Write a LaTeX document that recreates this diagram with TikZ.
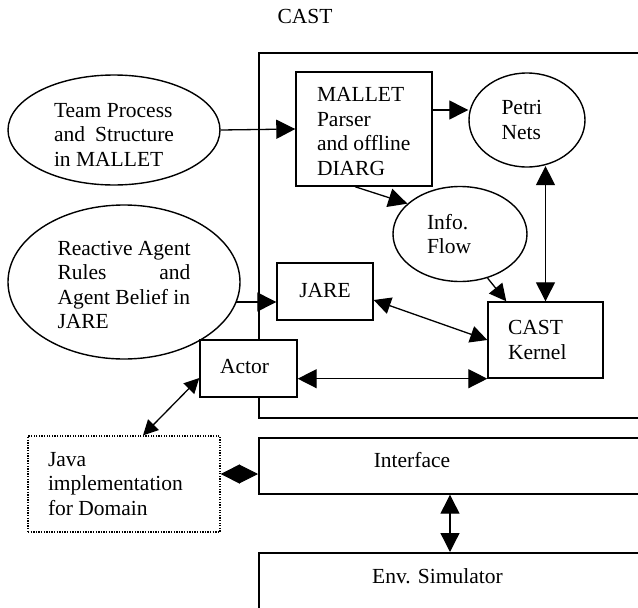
\documentclass[tikz,border=0pt]{standalone}
\usepackage{fontspec}
\setmainfont{Liberation Serif}
\usetikzlibrary{arrows.meta,shapes.geometric}
\begin{document}
\begin{tikzpicture}[x=1pt,y=-1pt,
  every node/.style={font=\fontsize{21.5}{24.5}\selectfont, inner sep=0pt},
  box/.style={draw, line width=1.4pt, fill=white},
  oval/.style={draw, ellipse, line width=1.4pt, inner sep=0pt},
  tipbig/.tip={Triangle[length=19pt,width=19pt]},
  tipmid/.tip={Triangle[length=17pt,width=17pt]},
  tipsmall/.tip={Triangle[length=15pt,width=15pt]},
  conn/.style={line width=1.3pt, -tipbig},
  biconn/.style={line width=1.3pt, tipbig-tipbig},
  bimid/.style={line width=1.3pt, tipmid-tipmid},
  bismall/.style={line width=1.3pt, tipsmall-tipsmall}]
\useasboundingbox (0,0) rectangle (638,608);
\begin{scope}
  \clip (0,0) rectangle (638,608);
  \node[draw, line width=2pt, anchor=north west, minimum width=450pt, minimum height=365pt] (cast) at (258,52) {};
  \node[draw, line width=1.7pt, anchor=north west, minimum width=450pt, minimum height=56pt] (iface) at (258,437) {};
  \node[draw, line width=1.7pt, anchor=north west, minimum width=450pt, minimum height=100pt] (env) at (258,552) {};
\end{scope}
\node (casttitle) at (305,16.5) {CAST};
\node (ifacetext) at (412,460) {Interface};
\node (envtext) at (437.5,576) {Env. Simulator};

\node[oval, minimum width=212pt, minimum height=110pt] (team) at (114,130)
  {\parbox{120pt}{\vspace*{9pt}Team Process\\\makebox[120pt][l]{and\hfill Structure}\\in MALLET}};
\node[oval, minimum width=232pt, minimum height=154pt] (react) at (124,282)
  {\parbox{133pt}{\vspace*{6pt}Reactive Agent\\\makebox[133pt][l]{Rules\hfill and}\\Agent Belief in\\JARE}};

\node[box, minimum width=136pt, minimum height=114pt] (mallet) at (364,129)
  {\parbox{94pt}{\vspace*{5pt}MALLET\\Parser\\and offline\\DIARG}};
\node[oval, minimum width=116pt, minimum height=94pt] (petri) at (527,120)
  {\parbox{41pt}{Petri\\Nets}\hspace*{10pt}};
\node[oval, minimum width=134pt, minimum height=95pt] (info) at (460,234)
  {\parbox{44pt}{Info.\\Flow}\hspace*{22pt}};
\node[box, minimum width=96pt, minimum height=57pt] (jare) at (325,291.5)
  {\raisebox{3pt}{JARE}};
\node[box, minimum width=115pt, minimum height=76pt] (kernel) at (545.5,340)
  {\parbox{59pt}{CAST\\Kernel}\hspace*{16pt}};
\node[box, minimum width=97pt, minimum height=57pt] (actor) at (248.5,368.5)
  {\raisebox{4pt}{Actor}\hspace*{8pt}};
\node[draw, line width=1.3pt, dash pattern=on 1.3pt off 1.3pt, minimum width=192pt, minimum height=96pt] (java) at (124,484)
  {\parbox{150pt}{Java\\implementation\\for Domain}\hspace*{2pt}};

% connectors
\draw[conn] (team.east) -- (mallet.west);
\draw[conn] ([yshift=19pt]mallet.east) -- ([yshift=19pt]mallet.east -| petri.west);
\draw[conn] ([xshift=-9pt]mallet.south) -- (info.150);
\coordinate (jin) at ([yshift=-10.5pt]jare.west);
\draw[conn] (jin -| react.-11) -- (jin);
\draw[line width=1.3pt, -tipmid] (info.-58) -- ([xshift=19pt]kernel.north west);
\draw[biconn] (kernel.north) -- (kernel.north |- petri.-72);
\draw[bimid] ([yshift=-8.5pt]jare.east) -- (kernel.west);
\draw[biconn] (kernel.south west -| actor.east) -- (kernel.south west);
\draw[bismall] ([yshift=-9.5pt]actor.west) -- ([xshift=19pt]java.north);
\coordinate (dj) at ([yshift=10pt]java.east);
\draw[line width=1pt, tipbig-tipbig] (dj) -- (dj -| iface.west);
\draw[biconn] ([xshift=192pt]iface.south west) -- ([xshift=192pt]env.north west);
\end{tikzpicture}
\end{document}
